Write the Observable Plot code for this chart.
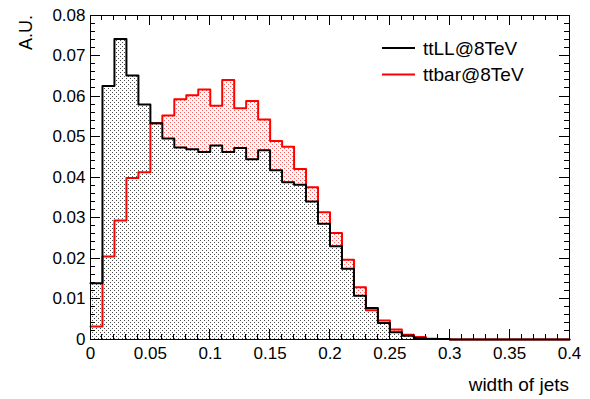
<!DOCTYPE html>
<html><head><meta charset="utf-8">
<script src="https://cdn.jsdelivr.net/npm/d3@7"></script>
<script src="https://cdn.jsdelivr.net/npm/@observablehq/plot@0.6"></script>
<style>
html,body{margin:0;padding:0;background:#fff;}
#chart{position:relative;width:590px;height:399px;}
</style></head><body><div id="chart"></div>
<script>
// ---- data (bin contents, 40 bins of width 0.01 from 0 to 0.4) ----
const binWidth = 0.01;
const binCount = 40;
const ttLL = [0.0139, 0.0626, 0.0742, 0.0652, 0.0580, 0.0534, 0.0496, 0.0474, 0.0470, 0.0463,
              0.0479, 0.0463, 0.0473, 0.0445, 0.0467, 0.0418, 0.0388, 0.0382, 0.0341, 0.0286,
              0.0230, 0.0175, 0.0108, 0.0078, 0.0041, 0.0018, 0.0009, 0.0004, 0.0001, 0.0001,
              0, 0, 0, 0, 0, 0, 0, 0, 0, 0];
const ttbar = [0.0032, 0.0205, 0.0294, 0.0399, 0.0413, 0.0534, 0.0553, 0.0593, 0.0603, 0.0617,
               0.0577, 0.0641, 0.0571, 0.0589, 0.0543, 0.0490, 0.0476, 0.0421, 0.0376, 0.0314,
               0.0263, 0.0197, 0.0129, 0.0072, 0.0047, 0.0025, 0.0012, 0.0006, 0.0002, 0.0001,
               0, 0, 0, 0, 0, 0, 0, 0, 0, 0];
const xTicks = [0, 0.05, 0.1, 0.15, 0.2, 0.25, 0.3, 0.35, 0.4];
const yTicks = [0, 0.01, 0.02, 0.03, 0.04, 0.05, 0.06, 0.07, 0.08];
const seriesNames = ["ttLL@8TeV", "ttbar@8TeV"];
const seriesColors = ["#000000", "#ff0000"];
const xTitle = "width of jets";
const yTitle = "A.U.";

function steps(values) {
  const pts = values.map((v, i) => ({x: i * binWidth, y: v}));
  pts.push({x: binCount * binWidth, y: values[values.length - 1]});
  return pts;
}
const blackPts = steps(ttLL);
const redPts = steps(ttbar);

const FONT = "'Liberation Sans', Arial, Helvetica, sans-serif";

const plot = Plot.plot({
  width: 590, height: 399,
  marginLeft: 90, marginRight: 21, marginTop: 15, marginBottom: 60,
  style: {fontFamily: FONT, fontSize: "17px", color: "#000", background: "#fff", overflow: "visible"},
  x: {domain: [0, 0.4]},
  y: {domain: [0, 0.08]},
  marks: [
    Plot.areaY(redPts, {x: "x", y: "y", curve: "step-after", fill: "url(#dotRed)"}),
    Plot.areaY(blackPts, {x: "x", y: "y", curve: "step-after", fill: "url(#dotBlack)"}),
    Plot.lineY(redPts, {x: "x", y: "y", curve: "step-after", stroke: seriesColors[1], strokeWidth: 2}),
    Plot.lineY(blackPts, {x: "x", y: "y", curve: "step-after", stroke: seriesColors[0], strokeWidth: 2}),
    Plot.axisX({ticks: xTicks, tickSize: 0, tickPadding: 7, label: null, tickFormat: d3.format("~g"), fontSize: 17}),
    Plot.axisY({ticks: yTicks, tickSize: 0, tickPadding: 5, label: null, tickFormat: d3.format("~g"), fontSize: 17}),
    Plot.frame({stroke: "#000", strokeWidth: 1})
  ]
});
document.getElementById("chart").appendChild(plot);

const svg = d3.select(plot);
// fill patterns
const defs = svg.insert("defs", ":first-child");
function dotPattern(id, bg, dot) {
  const p = defs.append("pattern").attr("id", id).attr("patternUnits", "userSpaceOnUse")
    .attr("width", 4).attr("height", 4);
  if (bg) p.append("rect").attr("width", 4).attr("height", 4).attr("fill", bg);
  p.append("rect").attr("x", 0).attr("y", 0).attr("width", 1).attr("height", 1).attr("fill", dot);
  p.append("rect").attr("x", 2).attr("y", 2).attr("width", 1).attr("height", 1).attr("fill", dot);
}
dotPattern("dotBlack", "#fff", "#4a4a4a");
dotPattern("dotRed", "#fff", "#ff5a5a");

// ROOT-style ticks on all four sides
const xs = plot.scale("x"), ys = plot.scale("y");
const X0 = xs.apply(0), X1 = xs.apply(0.4), Y0 = ys.apply(0), Y1 = ys.apply(0.08);
const g = svg.append("g").attr("stroke", "#000").attr("stroke-width", 1).attr("shape-rendering", "crispEdges");
const xMinor = d3.range(0, 41).map(i => i / 100);
const yMinor = d3.range(0, 41).map(i => i / 500);
xMinor.forEach((v, i) => {
  const L = i % 5 === 0 ? 10 : 5, px = xs.apply(v);
  g.append("line").attr("x1", px).attr("x2", px).attr("y1", Y0).attr("y2", Y0 - L);
  g.append("line").attr("x1", px).attr("x2", px).attr("y1", Y1).attr("y2", Y1 + L);
});
yMinor.forEach((v, i) => {
  const L = i % 5 === 0 ? 10 : 5, py = ys.apply(v);
  g.append("line").attr("x1", X0).attr("x2", X0 + L).attr("y1", py).attr("y2", py);
  g.append("line").attr("x1", X1).attr("x2", X1 - L).attr("y1", py).attr("y2", py);
});

// axis titles
svg.append("text").attr("x", X1).attr("y", 391).attr("text-anchor", "end")
  .attr("font-family", FONT).attr("font-size", 19).attr("fill", "#000").text(xTitle);
svg.append("text").attr("transform", `translate(32,${Y1}) rotate(-90)`).attr("text-anchor", "end")
  .attr("font-family", FONT).attr("font-size", 18).attr("fill", "#000").text(yTitle);

// legend
const leg = svg.append("g");
seriesNames.forEach((name, i) => {
  const yy = 48 + i * 26.5;
  leg.append("line").attr("x1", 382).attr("x2", 415).attr("y1", yy).attr("y2", yy)
    .attr("stroke", seriesColors[i]).attr("stroke-width", 2);
  leg.append("text").attr("x", 423).attr("y", yy).attr("dy", "0.35em").attr("text-anchor", "start")
    .attr("font-family", FONT).attr("font-size", 19).attr("fill", "#000").text(name);
});
</script>
</body></html>
